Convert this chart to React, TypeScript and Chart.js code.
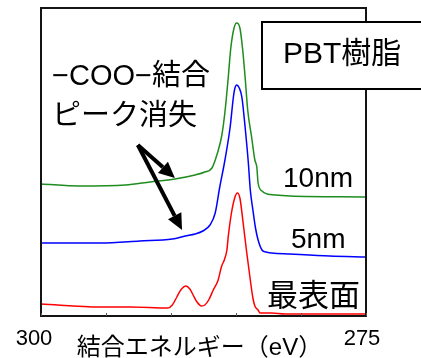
import React, { useEffect, useRef } from "react";
import { Chart, registerables } from "chart.js";

Chart.register(...registerables);

// Binding energy (eV) and intensity (arb. units)
const energy10nm = [300, 297, 293.5, 291.6, 289.7, 288.15, 287.4, 286.85, 286.45, 286.1, 285.85, 285.6, 285.4, 285.15, 284.95, 284.7, 284.5, 284.3, 284.1, 283.8, 283.55, 283.4, 283.3, 283.0, 282.6, 282.0, 280.85, 275];
const intensity10nm = [132, 130, 131, 134, 137, 141, 144, 148, 162, 180, 204, 238, 268, 288, 293, 288, 268, 239, 206, 179, 156, 149, 133, 125, 122, 121, 120, 119];

const energy5nm = [300, 295.45, 292.4, 289.9, 288.9, 288.15, 287.55, 287.0, 286.6, 286.25, 285.85, 285.45, 285.2, 285.1, 284.95, 284.75, 284.55, 284.3, 284.05, 283.9, 283.7, 283.5, 283.3, 283.0, 282.7, 282.25, 280.85, 277.8, 275];
const intensity5nm = [73, 73, 75, 77, 80, 82, 85, 91, 103, 129, 156, 189, 219, 227, 231, 228, 219, 189, 153, 126, 106, 88, 76, 66, 64, 63, 62, 60, 59];

const energySurface = [300, 295.45, 293.15, 290.25, 289.9, 289.55, 289.25, 288.85, 288.55, 288.3, 288.0, 287.65, 287.4, 287.1, 286.75, 286.4, 286.1, 285.9, 285.7, 285.6, 285.35, 285.1, 284.9, 284.7, 284.45, 284.2, 283.9, 283.7, 283.55, 283.3, 283.15, 282.25, 281.25, 275];
const intensitySurface = [12, 9, 9, 8, 11, 19, 26, 30, 27, 21, 14, 10, 11, 16, 26, 35, 50, 56, 66, 79, 103, 118, 123, 118, 93, 66, 36, 18, 10, 6, 3, 3, 2, 2];

const seriesLabels = ["10nm", "5nm", "最表面"];
const seriesColors = ["#1e8c1e", "#0000ff", "#ff0000"];

const xTickValues = [300, 295, 290, 285, 280, 275];
const xTickLabels = ["300", "", "", "", "", "275"];
const xTitle = "結合エネルギー（eV）";
const boxLabel = "PBT樹脂";
const noteLines = ["−COO−結合", "ピーク消失"];
// arrow start and tips in data coordinates
const arrowStart = [292.55, 171];
const arrowTips = [[289.7, 138], [289.15, 86]];

const FONT = '"Liberation Sans", "Noto Sans CJK JP", sans-serif';

function toPoints(xs: number[], ys: number[]) {
  return xs.map((x, i) => ({ x, y: ys[i] }));
}

const annotate = {
  id: "annotate",
  afterDraw(chart: any) {
    const { ctx, chartArea: a, scales } = chart;
    const xs = scales.x;
    const ys = scales.y;
    ctx.save();

    // frame
    ctx.strokeStyle = "#141414";
    ctx.lineWidth = 2;
    ctx.strokeRect(a.left, a.top, a.right - a.left, a.bottom - a.top);

    // inward tick marks
    ctx.strokeStyle = "#555";
    ctx.lineWidth = 1;
    xTickValues.forEach((v) => {
      const px = Math.round(xs.getPixelForValue(v)) + 0.5;
      ctx.beginPath();
      ctx.moveTo(px, a.bottom);
      ctx.lineTo(px, a.bottom - 3);
      ctx.stroke();
    });

    // tick labels
    ctx.fillStyle = "#000";
    ctx.font = `22px ${FONT}`;
    ctx.textAlign = "center";
    ctx.textBaseline = "middle";
    xTickValues.forEach((v, i) => {
      if (!xTickLabels[i]) return;
      const off = i === 0 ? -7 : -4;
      ctx.fillText(xTickLabels[i], xs.getPixelForValue(v) + off, a.bottom + 23);
    });

    // axis title
    ctx.font = `24px ${FONT}`;
    ctx.fillText(xTitle, (a.left + a.right) / 2 - 4, a.bottom + 32);

    // series labels
    ctx.textAlign = "left";
    ctx.font = `28px ${FONT}`;
    ctx.fillText(seriesLabels[0], 283, 179);
    ctx.fillText(seriesLabels[1], 291, 240);
    ctx.font = `31px ${FONT}`;
    ctx.fillText(seriesLabels[2], 267, 297);

    // note
    ctx.font = `29px ${FONT}`;
    ctx.fillText(noteLines[0], 52, 77);
    ctx.fillText(noteLines[1], 52, 117);

    // arrows
    const sx = xs.getPixelForValue(arrowStart[0]);
    const sy = ys.getPixelForValue(arrowStart[1]);
    ctx.fillStyle = "#000";
    ctx.strokeStyle = "#000";
    arrowTips.forEach(([ex, ey]) => {
      const tx = xs.getPixelForValue(ex);
      const ty = ys.getPixelForValue(ey);
      const ang = Math.atan2(ty - sy, tx - sx);
      const headLen = 16;
      const headW = 7.5;
      const bx = tx - headLen * Math.cos(ang);
      const by = ty - headLen * Math.sin(ang);
      ctx.lineWidth = 4;
      ctx.lineCap = "butt";
      ctx.beginPath();
      ctx.moveTo(sx, sy);
      ctx.lineTo(bx, by);
      ctx.stroke();
      ctx.beginPath();
      ctx.moveTo(tx, ty);
      ctx.lineTo(bx + headW * Math.sin(ang), by - headW * Math.cos(ang));
      ctx.lineTo(bx - headW * Math.sin(ang), by + headW * Math.cos(ang));
      ctx.closePath();
      ctx.fill();
    });

    // PBT box
    ctx.fillStyle = "#fff";
    ctx.fillRect(262, 22, 200, 67);
    ctx.strokeStyle = "#000";
    ctx.lineWidth = 2;
    ctx.strokeRect(262, 22, 200, 67);
    ctx.fillStyle = "#000";
    ctx.font = `30px ${FONT}`;
    ctx.fillText(boxLabel, 283, 55);

    ctx.restore();
  },
};

export default function App() {
  const ref = useRef<HTMLCanvasElement | null>(null);

  useEffect(() => {
    if (!ref.current) return;
    const chart = new Chart(ref.current, {
      type: "line",
      data: {
        datasets: [
          { label: seriesLabels[0], data: toPoints(energy10nm, intensity10nm), borderColor: seriesColors[0] },
          { label: seriesLabels[1], data: toPoints(energy5nm, intensity5nm), borderColor: seriesColors[1] },
          { label: seriesLabels[2], data: toPoints(energySurface, intensitySurface), borderColor: seriesColors[2] },
        ].map((d) => ({
          ...d,
          borderWidth: 1.5,
          pointRadius: 0,
          fill: false,
          cubicInterpolationMode: "monotone" as const,
        })),
      },
      options: {
        responsive: false,
        animation: false,
        devicePixelRatio: 1,
        layout: { padding: { left: 41, top: 8, right: 55, bottom: 42 } },
        plugins: { legend: { display: false }, tooltip: { enabled: false } },
        scales: {
          x: { type: "linear", min: 275, max: 300, reverse: true, display: false },
          y: { type: "linear", min: 0, max: 308, display: false },
        },
      },
      plugins: [annotate],
    });
    return () => chart.destroy();
  }, []);

  return (
    <div style={{ position: "absolute", left: 0, top: 0, width: 421, height: 358, background: "#fff" }}>
      <canvas ref={ref} width={421} height={358} />
    </div>
  );
}
